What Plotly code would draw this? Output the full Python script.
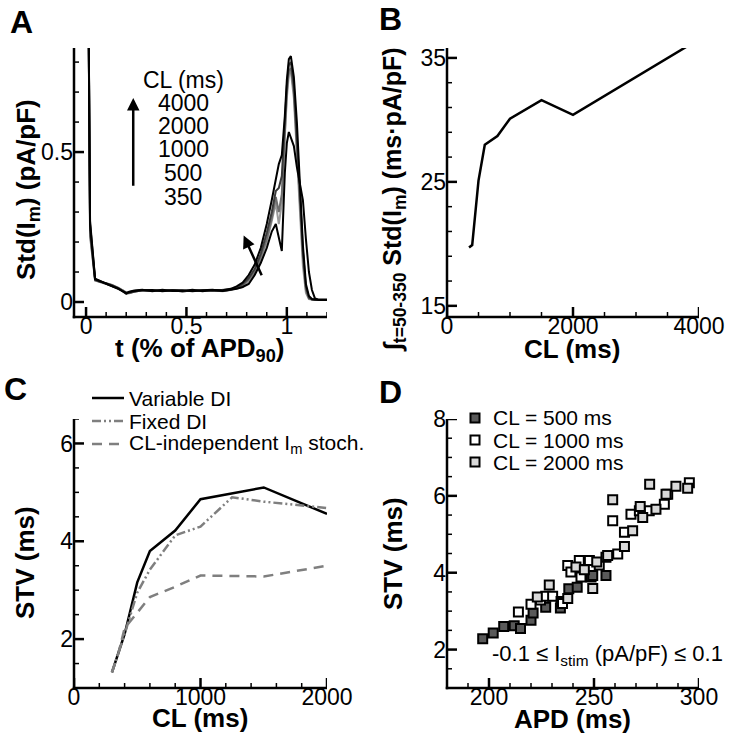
import plotly.graph_objects as go

FONT = "Liberation Sans, Arial, sans-serif"
W, H = 730, 744

# ---------------- Panel A data ----------------
t_apd = [0.010, 0.020, 0.045, 0.07, 0.10, 0.13, 0.16, 0.185, 0.20, 0.215, 0.24, 0.28,
         0.33, 0.38, 0.43, 0.48, 0.53, 0.58, 0.63, 0.68, 0.72, 0.75,
         0.78, 0.81, 0.84, 0.87, 0.90, 0.925, 0.945, 0.96, 0.975, 0.99, 1.0, 1.01,
         1.02, 1.035, 1.05, 1.065, 1.08, 1.095, 1.11, 1.125, 1.14, 1.16, 1.2]
std_cl4000 = [1.20, 0.27, 0.078, 0.070, 0.060, 0.052, 0.044, 0.036, 0.030, 0.034, 0.038, 0.041,
              0.036, 0.041, 0.037, 0.037, 0.041, 0.036, 0.040, 0.039, 0.044, 0.052,
              0.065, 0.09, 0.125, 0.18, 0.26, 0.34, 0.41, 0.46, 0.49, 0.62, 0.74, 0.81,
              0.82, 0.75, 0.60, 0.40, 0.19, 0.06, 0.02, 0.01, 0.008, 0.007, 0.007]
std_cl2000 = [1.20, 0.24, 0.074, 0.067, 0.063, 0.056, 0.046, 0.034, 0.027, 0.031, 0.035, 0.039,
              0.038, 0.039, 0.039, 0.035, 0.039, 0.038, 0.038, 0.037, 0.041, 0.047,
              0.06, 0.08, 0.11, 0.16, 0.23, 0.30, 0.37, 0.38, 0.42, 0.60, 0.72, 0.79,
              0.80, 0.72, 0.56, 0.37, 0.17, 0.05, 0.015, 0.008, 0.007, 0.007, 0.007]
std_cl1000 = [1.20, 0.22, 0.072, 0.066, 0.061, 0.054, 0.047, 0.038, 0.031, 0.029, 0.036, 0.038,
              0.039, 0.037, 0.040, 0.036, 0.038, 0.039, 0.037, 0.040, 0.042, 0.046,
              0.055, 0.075, 0.10, 0.15, 0.21, 0.28, 0.35, 0.30, 0.36, 0.58, 0.70, 0.77,
              0.78, 0.70, 0.53, 0.34, 0.15, 0.04, 0.012, 0.008, 0.007, 0.007, 0.007]
std_cl500 = [1.20, 0.23, 0.073, 0.069, 0.062, 0.057, 0.048, 0.037, 0.032, 0.030, 0.034, 0.040,
             0.037, 0.038, 0.037, 0.038, 0.037, 0.040, 0.038, 0.036, 0.040, 0.045,
             0.05, 0.07, 0.095, 0.14, 0.20, 0.27, 0.33, 0.26, 0.33, 0.55, 0.68, 0.76,
             0.77, 0.68, 0.50, 0.30, 0.12, 0.03, 0.01, 0.008, 0.007, 0.007, 0.007]
std_cl350 = [1.20, 0.26, 0.076, 0.069, 0.061, 0.053, 0.045, 0.035, 0.029, 0.033, 0.037, 0.039,
             0.040, 0.036, 0.039, 0.039, 0.036, 0.039, 0.041, 0.037, 0.040, 0.044,
             0.05, 0.06, 0.09, 0.13, 0.18, 0.235, 0.26, 0.22, 0.17, 0.43, 0.53, 0.567,
             0.55, 0.52, 0.45, 0.40, 0.34, 0.21, 0.10, 0.04, 0.012, 0.008, 0.008]
a_cl_labels = ["4000", "2000", "1000", "500", "350"]
a_xticks = [0, 0.5, 1]
a_yticks = [0, 0.5]

# ---------------- Panel B data ----------------
cl_b = [350, 400, 500, 600, 800, 1000, 1500, 2000, 3800]
int_std_b = [19.7, 19.9, 25.1, 28.0, 28.7, 30.1, 31.6, 30.4, 35.9]
b_xticks = [0, 2000, 4000]
b_yticks = [15, 25, 35]

# ---------------- Panel C data ----------------
cl_var = [300, 350, 400, 500, 600, 800, 1000, 1500, 2000]
stv_var = [1.32, 1.7, 2.1, 3.16, 3.8, 4.22, 4.86, 5.1, 4.56]
cl_fix = [300, 350, 400, 500, 600, 800, 1000, 1250, 1500, 2000]
stv_fix = [1.32, 1.7, 2.1, 2.95, 3.42, 4.12, 4.3, 4.9, 4.81, 4.68]
cl_ind = [300, 350, 400, 500, 600, 800, 1000, 1250, 1500, 2000]
stv_ind = [1.32, 1.7, 2.22, 2.55, 2.86, 3.07, 3.3, 3.29, 3.28, 3.5]
c_names = ["Variable DI", "Fixed DI", "CL-independent I<sub>m</sub> stoch."]
c_xticks = [0, 1000, 2000]
c_yticks = [2, 4, 6]

# ---------------- Panel D data ----------------
apd_500 = [197, 202, 207, 212, 215, 220, 221, 227, 234, 238, 242, 248.6, 249.4, 255.7]
stv_500 = [2.28, 2.43, 2.6, 2.62, 2.55, 2.76, 2.95, 3.1, 3.08, 3.58, 3.62, 3.89, 3.93, 3.93]
apd_1000 = [214, 220, 224.5, 227, 230.3, 234.3, 235, 237.5, 239, 243, 243.8, 247.8, 252.5,
            255.7, 258.9, 261.3, 264.5, 267.6, 271.6, 276.3, 283.5, 285.1, 295.4]
stv_1000 = [2.98, 3.18, 3.29, 3.39, 3.39, 3.25, 3.2, 4.19, 4.02, 4.32, 3.89, 4.32, 4.2,
            4.4, 5.35, 4.49, 5.05, 5.52, 5.61, 5.61, 5.78, 6.04, 6.34]
apd_2000 = [223, 228.7, 237.5, 241.4, 245.4, 249.4, 251.3, 256.5, 258.9, 264.5, 268.4,
            272, 273.2, 276.5, 279.5, 284.3, 289, 294.6]
stv_2000 = [3.37, 3.68, 3.33, 4.15, 4.08, 3.59, 4.28, 4.45, 5.9, 4.68, 5.09,
            5.72, 5.44, 6.3, 5.65, 6.04, 6.25, 6.2]
d_names = ["CL = 500 ms", "CL = 1000 ms", "CL = 2000 ms"]
d_xticks = [200, 250, 300]
d_yticks = [2, 4, 6, 8]


def px(x):
    return x / W


def py(y):
    return 1 - y / H


fig = go.Figure()

# Panel A traces
a_series = [(std_cl500, "#9a9a9a"), (std_cl1000, "#6e6e6e"), (std_cl2000, "#3a3a3a"),
            (std_cl350, "#000000"), (std_cl4000, "#000000")]
for ys, col in a_series:
    fig.add_trace(go.Scatter(x=t_apd, y=ys, mode="lines", line=dict(color=col, width=2),
                             xaxis="x", yaxis="y", showlegend=False, hoverinfo="skip"))

# Panel B
fig.add_trace(go.Scatter(x=cl_b, y=int_std_b, mode="lines", line=dict(color="black", width=2.5),
                         xaxis="x2", yaxis="y2", showlegend=False))

# Panel C
c_styles = [dict(color="black", width=2.5),
            dict(color="#7f7f7f", width=2.5, dash="9px,3px,2px,3px,2px,3px"),
            dict(color="#7f7f7f", width=2.5, dash="10px,7px")]
for xs, ys, nm, st in zip([cl_var, cl_fix, cl_ind], [stv_var, stv_fix, stv_ind], c_names, c_styles):
    fig.add_trace(go.Scatter(x=xs, y=ys, mode="lines", name=nm, line=st,
                             xaxis="x3", yaxis="y3", showlegend=False))

# Panel D
d_colors = ["#595959", "#ffffff", "#d9d9d9"]
for xs, ys, col, nm in zip([apd_500, apd_1000, apd_2000], [stv_500, stv_1000, stv_2000],
                           d_colors, d_names):
    fig.add_trace(go.Scatter(x=xs, y=ys, mode="markers", name=nm,
                             marker=dict(symbol="square", size=9, color=col,
                                         line=dict(color="black", width=2)),
                             xaxis="x4", yaxis="y4", showlegend=False))

tickfont = dict(family=FONT, size=23, color="black")


def axis(rng, dom, anchor, vals, is_x):
    d = dict(range=rng, domain=dom, anchor=anchor, showline=False, ticks="",
             tickvals=vals, showgrid=False, zeroline=False, tickfont=tickfont,
             fixedrange=True, automargin=False)
    if is_x:
        d["ticklabelstandoff"] = -7
    return d


xdomA = [px(74), px(327)]
xdomB = [px(447), px(699)]
ydomTop = [py(317), py(48)]
ydomBot = [py(688), py(419)]

panels = [
    # x id, y id, x domain, y domain, x range, y range, x ticks, y ticks, x minor step, y minor step, x minor start, y minor start
    ("x", "y", xdomA, ydomTop, [-0.06, 1.2], [-0.05, 0.847], a_xticks, a_yticks, 0.1, 0.1, 0, 0),
    ("x2", "y2", xdomB, ydomTop, [0, 4000], [14.1, 35.8], b_xticks, b_yticks, 500, 2, 0, 15),
    ("x3", "y3", xdomA, ydomBot, [0, 2000], [1, 6.5], c_xticks, c_yticks, 200, 0.5, 0, 1),
    ("x4", "y4", xdomB, ydomBot, [180, 300], [1, 8], d_xticks, d_yticks, 10, 0.5, 180, 1),
]

layout_axes = {}
for i, (xid, yid, xd, yd, xr, yr, xt, yt, xs_, ys_, x0_, y0_) in enumerate(panels):
    sfx = "" if i == 0 else str(i + 1)
    layout_axes["xaxis" + sfx] = axis(xr, xd, yid, xt, True)
    layout_axes["yaxis" + sfx] = axis(yr, yd, xid, yt, False)

fig.update_layout(
    template="none",
    width=W, height=H, margin=dict(l=0, r=0, t=0, b=0, pad=0, autoexpand=False),
    paper_bgcolor="white", plot_bgcolor="white",
    font=dict(family=FONT, color="black"),
    showlegend=False,
    **layout_axes,
)

ann = []
shapes = []

# axis lines and tick marks (drawn as shapes)
LW = 2.5
for (xid, yid, xd, yd, xr, yr, xt, yt, xs_, ys_, x0_, y0_) in panels:
    hpx = (yd[1] - yd[0]) * H
    wpx = (xd[1] - xd[0]) * W
    shapes.append(dict(type="line", xref="paper", yref="paper", x0=xd[0] - LW / 2 / W, x1=xd[1],
                       y0=yd[0], y1=yd[0], line=dict(color="black", width=LW)))
    shapes.append(dict(type="line", xref="paper", yref="paper", x0=xd[0], x1=xd[0],
                       y0=yd[0] - LW / 2 / H, y1=yd[1], line=dict(color="black", width=LW)))
    # x ticks
    n = int(round((xr[1] - x0_) / xs_))
    for k in range(n + 1):
        v = round(x0_ + k * xs_, 6)
        if v < xr[0] - 1e-9 or v > xr[1] + 1e-9:
            continue
        major = any(abs(v - m) < 1e-9 for m in xt)
        ln = 10 if major else 5
        shapes.append(dict(type="line", xref=xid, yref=yid + " domain", x0=v, x1=v,
                           y0=0, y1=ln / hpx,
                           line=dict(color="black", width=2.5 if major else 1.5)))
    # y ticks
    n = int(round((yr[1] - y0_) / ys_))
    for k in range(n + 1):
        v = round(y0_ + k * ys_, 6)
        if v < yr[0] - 1e-9 or v > yr[1] + 1e-9:
            continue
        major = any(abs(v - m) < 1e-9 for m in yt)
        ln = 10 if major else 5
        shapes.append(dict(type="line", xref=xid + " domain", yref=yid, x0=0, x1=ln / wpx,
                           y0=v, y1=v,
                           line=dict(color="black", width=2.5 if major else 1.5)))


def txt(x, y, s, size, angle=0, xanchor="center"):
    ann.append(dict(x=px(x), y=py(y), xref="paper", yref="paper", text=s,
                    showarrow=False, textangle=angle, xanchor=xanchor, yanchor="middle",
                    font=dict(family=FONT, size=size, color="black")))


# panel letters
txt(21, 22, "<b>A</b>", 32)
txt(390, 19, "<b>B</b>", 32)
txt(15, 389, "<b>C</b>", 32)
txt(390, 392, "<b>D</b>", 32)

# axis titles
txt(27, 190, "<b>Std(I<sub>m</sub>) (pA/pF)</b>", 26, angle=-90)
txt(199, 349, "<b>t (% of APD<sub>90</sub>)</b>", 26)
txt(394, 200, "<b>∫<sub>t=50-350</sub> Std(I<sub>m</sub>) (ms·pA/pF)</b>", 25, angle=-90)
txt(572, 349, "<b>CL (ms)</b>", 26)
txt(25, 563, "<b>STV (ms)</b>", 26, angle=-90)
txt(200, 718, "<b>CL (ms)</b>", 26)
txt(393, 553, "<b>STV (ms)</b>", 26, angle=-90)
txt(572, 719, "<b>APD (ms)</b>", 26)

# panel D condition text
txt(607, 655, "-0.1 ≤ I<sub>stim</sub> (pA/pF) ≤ 0.1", 22)

# legend of panel C (keys drawn in paper space)
c_rows = [398, 421, 444]
for nm, st, yy in zip(c_names, c_styles, c_rows):
    shapes.append(dict(type="line", xref="paper", yref="paper", x0=px(92), x1=px(124),
                       y0=py(yy), y1=py(yy), line=st))
    txt(127, yy, nm, 21, xanchor="left")

# legend of panel D
d_rows = [418, 440, 462]
for nm, col, yy in zip(d_names, d_colors, d_rows):
    shapes.append(dict(type="rect", xref="paper", yref="paper", x0=px(470.5), x1=px(479.5),
                       y0=py(yy + 4.5), y1=py(yy - 4.5), fillcolor=col,
                       line=dict(color="black", width=2)))
    txt(491, yy, nm, 21, xanchor="left")

# panel A CL labels (data coordinates)
a_label_y = [0.663, 0.587, 0.51, 0.43, 0.35]
ann.append(dict(x=0.485, y=0.74, xref="x", yref="y", text="CL (ms)", showarrow=False,
                font=dict(family=FONT, size=23, color="black")))
for lab, yy in zip(a_cl_labels, a_label_y):
    ann.append(dict(x=0.485, y=yy, xref="x", yref="y", text=lab, showarrow=False,
                    font=dict(family=FONT, size=23, color="black")))

# arrows in panel A
ann.append(dict(x=0.235, y=0.68, ax=0.235, ay=0.383, xref="x", yref="y", axref="x", ayref="y",
                text="", showarrow=True, arrowhead=2, arrowsize=1.0, arrowwidth=2.5,
                arrowcolor="black"))
ann.append(dict(x=0.785, y=0.222, ax=0.878, ay=0.084, xref="x", yref="y", axref="x", ayref="y",
                text="", showarrow=True, arrowhead=2, arrowsize=1.0, arrowwidth=2.5,
                arrowcolor="black"))

fig.update_layout(annotations=ann, shapes=shapes)

fig.write_html("out.html", config={"displayModeBar": False},
               post_script="document.body.style.margin='0';document.body.style.overflow='hidden';")
